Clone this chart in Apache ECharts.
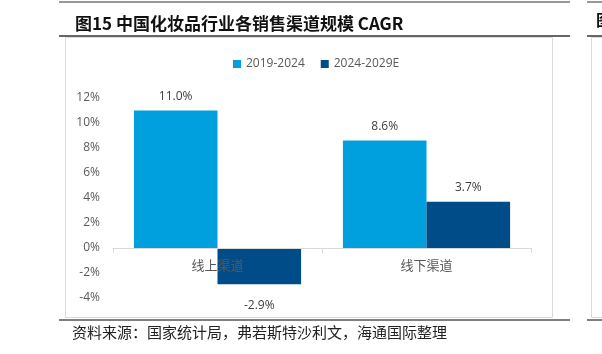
<!DOCTYPE html>
<html>
<head>
<meta charset="utf-8">
<script src="https://cdn.jsdelivr.net/npm/echarts@6/dist/echarts.min.js"></script>
<style>
  html, body { margin: 0; padding: 0; background: #fff; }
  #chart { width: 602px; height: 354px; }
</style>
</head>
<body>
<div id="chart"></div>
<script>
// 数据
const categories = ['线上渠道', '线下渠道']
const seriesNames = ['2019-2024', '2024-2029E']
const cagr2019 = [11.0, 8.6]
const cagr2024 = [-2.9, 3.7]
const colors = ['#00A0DF', '#004C88']

const chart = echarts.init(document.getElementById('chart'))

// 负值标签放在柱子下方
function toData(arr) {
  return arr.map(v => ({
    value: v,
    label: { position: v < 0 ? 'bottom' : 'top', distance: v < 0 ? 15 : 8 }
  }))
}

const cjk = '"Noto Sans CJK SC", "Noto Sans", sans-serif'
const latin = '"Open Sans", sans-serif'

const valueLabel = {
  show: true,
  color: '#404040',
  fontSize: 12,
  fontFamily: latin,
  formatter: p => p.value.toFixed(1) + '%'
}

const option = {
  animation: false,
  textStyle: { fontFamily: cjk },
  title: {
    text: '图15 中国化妆品行业各销售渠道规模 CAGR',
    left: 70,
    top: 10,
    textStyle: { fontSize: 17, fontWeight: 'bold', color: '#111', fontFamily: cjk }
  },
  legend: {
    data: seriesNames,
    left: 228,
    top: 53,
    itemWidth: 8,
    itemHeight: 8,
    itemGap: 16,
    icon: 'rect',
    textStyle: { fontSize: 12, color: '#595959', fontFamily: latin }
  },
  grid: { left: 113, right: 71, top: 98, bottom: 56, outerBoundsMode: 'none' },
  xAxis: {
    type: 'category',
    data: categories,
    z: 10,
    axisLine: { lineStyle: { color: '#d9d9d9', width: 1 } },
    axisTick: { show: true, length: 5, lineStyle: { color: '#d9d9d9' } },
    // 标签贴在0轴下方，画在柱子上面
    axisLabel: { color: '#595959', fontSize: 13, margin: -39 }
  },
  yAxis: {
    type: 'value',
    min: -4,
    max: 12,
    interval: 2,
    axisLine: { show: false },
    axisTick: { show: false },
    splitLine: { show: false },
    axisLabel: {
      formatter: '{value}%',
      color: '#595959',
      fontSize: 12,
      margin: 13,
      fontFamily: latin
    }
  },
  series: [
    {
      name: seriesNames[0],
      type: 'bar',
      data: toData(cagr2019),
      barGap: '0%',
      barCategoryGap: '20%',
      itemStyle: { color: colors[0] },
      label: valueLabel
    },
    {
      name: seriesNames[1],
      type: 'bar',
      data: toData(cagr2024),
      itemStyle: { color: colors[1] },
      label: valueLabel
    }
  ],
  graphic: [
    // 顶部细线与标题下横线
    { type: 'line', shape: { x1: 59, y1: 2, x2: 570, y2: 2 }, style: { stroke: '#333', lineWidth: 1 }, silent: true },
    { type: 'line', shape: { x1: 59, y1: 36, x2: 570, y2: 36 }, style: { stroke: '#333', lineWidth: 1.5 }, silent: true },
    { type: 'line', shape: { x1: 587, y1: 2, x2: 602, y2: 2 }, style: { stroke: '#333', lineWidth: 1 }, silent: true },
    { type: 'line', shape: { x1: 587, y1: 36, x2: 602, y2: 36 }, style: { stroke: '#333', lineWidth: 1.5 }, silent: true },
    // 图表外框
    { type: 'rect', shape: { x: 65.5, y: 37.5, width: 487, height: 280 }, style: { fill: 'none', stroke: '#d9d9d9', lineWidth: 1 }, silent: true, z: -1 },
    { type: 'rect', shape: { x: 591.5, y: 37.5, width: 20, height: 280 }, style: { fill: 'none', stroke: '#d9d9d9', lineWidth: 1 }, silent: true, z: -1 },
    // 底部横线
    { type: 'line', shape: { x1: 59, y1: 320, x2: 570, y2: 320 }, style: { stroke: '#555', lineWidth: 1.5 }, silent: true },
    { type: 'line', shape: { x1: 587, y1: 320, x2: 602, y2: 320 }, style: { stroke: '#555', lineWidth: 1.5 }, silent: true },
    // 右侧下一张图的标题残字
    { type: 'text', left: 596, top: 12, style: { text: '图', fontSize: 16, fontWeight: 'bold', fill: '#111', fontFamily: cjk }, silent: true },
    // 资料来源
    {
      type: 'text',
      left: 72,
      top: 325,
      style: {
        text: '资料来源：国家统计局，弗若斯特沙利文，海通国际整理',
        fontSize: 15,
        fill: '#222',
        fontFamily: cjk
      },
      silent: true
    }
  ]
}

chart.setOption(option)
</script>
</body>
</html>
